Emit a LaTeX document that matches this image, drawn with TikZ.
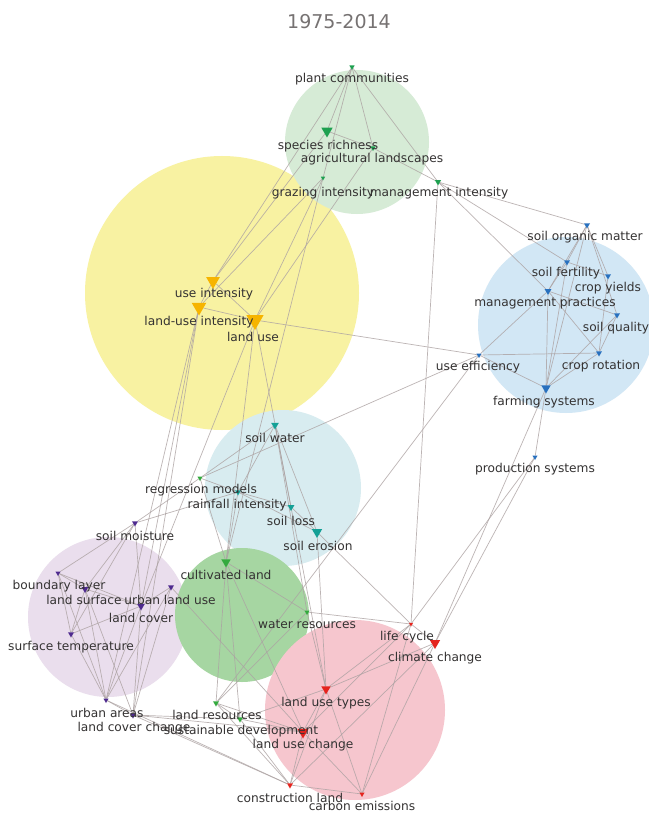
\documentclass[tikz,border=0pt]{standalone}
\usepackage{fontspec}
\setmainfont{DejaVu Sans}
\usetikzlibrary{shapes.geometric}
\pgfdeclarelayer{backdrop}
\pgfdeclarelayer{circles}
\pgfdeclarelayer{edges}
\pgfsetlayers{backdrop,circles,edges,main}
\definecolor{cYellow}{RGB}{248,242,162}
\definecolor{cTopGreen}{RGB}{214,235,214}
\definecolor{cBlue}{RGB}{210,231,245}
\definecolor{cCyan}{RGB}{216,236,240}
\definecolor{cLav}{RGB}{234,222,237}
\definecolor{cGreen}{RGB}{166,214,162}
\definecolor{cPink}{RGB}{246,198,206}
\definecolor{mGreen}{RGB}{30,160,80}
\definecolor{mYellow}{RGB}{246,180,0}
\definecolor{mBlue}{RGB}{40,112,190}
\definecolor{mTeal}{RGB}{20,160,150}
\definecolor{mPurple}{RGB}{78,42,142}
\definecolor{mGreen2}{RGB}{52,170,62}
\definecolor{mRed}{RGB}{228,36,30}
\definecolor{txt}{RGB}{52,50,50}
\definecolor{edgec}{RGB}{172,162,162}
\tikzset{
  mk/.style={regular polygon, regular polygon sides=3, shape border rotate=180,
    draw=none, inner sep=0pt, outer sep=0pt},
  lbl/.style={text=txt, inner sep=0pt, anchor=base, yshift=-4.4pt,
    font=\fontsize{12.2}{14}\selectfont},
  edge/.style={draw=edgec, line width=0.7pt, draw opacity=0.8},
  cluster/.style={draw=none}
}
\newcommand{\mkr}[5]{\node[mk, fill=#4, minimum size=#5pt] (#1) at (#2,#3) {};}
\newcommand{\lbx}[4]{\node[lbl] (#1-l) at (#2,#3) {#4};}
\begin{document}
\begin{tikzpicture}[x=1pt,y=-1pt]
\useasboundingbox (0,0) rectangle (648,813);
\begin{pgfonlayer}{backdrop}
  \fill[white] (0,0) rectangle (648,813);
\end{pgfonlayer}
\node[text={rgb,255:red,118;green,114;blue,114}, font=\fontsize{19}{22}\selectfont] (title) at (339,22) {1975-2014};
\begin{pgfonlayer}{circles}
  \fill[cYellow] (222,293) circle (137);
  \fill[cTopGreen] (357,142) circle (72);
  \fill[cBlue] (566,325) circle (88);
  \fill[cCyan] (283,488) circle (78);
  \fill[cLav] (108,617) circle (80);
  \fill[cGreen] (242,615) circle (67);
  \fill[cPink] (355,710) circle (90);
\end{pgfonlayer}
% markers
\mkr{pc}{352}{67}{mGreen}{6}
\mkr{sr}{327}{131}{mGreen}{13}
\mkr{al}{373}{148}{mGreen}{6}
\mkr{gi}{323}{178}{mGreen}{5}
\mkr{mi}{438}{182}{mGreen}{7}
\mkr{ui}{213}{281}{mYellow}{16}
\mkr{lui}{199}{307}{mYellow}{17}
\mkr{lu}{255}{320}{mYellow}{20}
\mkr{som}{587}{225}{mBlue}{7}
\mkr{sf}{567}{262}{mBlue}{7}
\mkr{cy}{608}{276}{mBlue}{7}
\mkr{mp}{548}{291}{mBlue}{8}
\mkr{sq}{617}{315}{mBlue}{7}
\mkr{ue}{479}{355}{mBlue}{6}
\mkr{cr}{599}{353}{mBlue}{7}
\mkr{fs}{546}{388}{mBlue}{11}
\mkr{ps}{535}{457}{mBlue}{6}
\mkr{sw}{275}{425}{mTeal}{9}
\mkr{rm}{200}{478}{mGreen2}{6}
\mkr{ri}{238}{492}{mTeal}{7}
\mkr{sl}{291}{507}{mTeal}{8}
\mkr{se}{317}{532}{mTeal}{12}
\mkr{sm}{135}{523}{mPurple}{7}
\mkr{bl}{58}{573}{mPurple}{6}
\mkr{ls}{85}{589}{mPurple}{8}
\mkr{ulu}{171}{587}{mPurple}{7}
\mkr{lc}{141}{606}{mPurple}{9}
\mkr{st}{71}{634}{mPurple}{7}
\mkr{ua}{106}{700}{mPurple}{6}
\mkr{lcc}{133}{715}{mPurple}{7}
\mkr{cl}{226}{562}{mGreen2}{11}
\mkr{wr}{307}{612}{mGreen2}{6}
\mkr{lr}{216}{703}{mGreen2}{7}
\mkr{sd}{240}{719}{mGreen2}{7}
\mkr{lcy}{411}{624}{mRed}{5}
\mkr{cc}{435}{643}{mRed}{12}
\mkr{lut}{326}{689}{mRed}{11}
\mkr{luc}{303}{732}{mRed}{13}
\mkr{con}{290}{785}{mRed}{7}
\mkr{ce}{362}{794}{mRed}{6}
% labels
\lbx{pc}{352}{78}{plant communities}
\lbx{sr}{328}{145}{species richness}
\lbx{al}{372}{158}{agricultural landscapes}
\lbx{gi}{323}{192}{grazing intensity}
\lbx{mi}{439}{192}{management intensity}
\lbx{ui}{214}{293}{use intensity}
\lbx{lui}{199}{321}{land-use intensity}
\lbx{lu}{253}{337}{land use}
\lbx{som}{585}{236}{soil organic matter}
\lbx{sf}{566}{272}{soil fertility}
\lbx{cy}{608}{287}{crop yields}
\lbx{mp}{545}{302}{management practices}
\lbx{sq}{616}{327}{soil quality}
\lbx{ue}{478}{366}{use efficiency}
\lbx{cr}{601}{365}{crop rotation}
\lbx{fs}{544}{401}{farming systems}
\lbx{ps}{535}{468}{production systems}
\lbx{sw}{275}{438}{soil water}
\lbx{rm}{201}{489}{regression models}
\lbx{ri}{237}{504}{rainfall intensity}
\lbx{sl}{291}{521}{soil loss}
\lbx{se}{318}{546}{soil erosion}
\lbx{sm}{135}{536}{soil moisture}
\lbx{bl}{59}{585}{boundary layer}
\lbx{ls}{84}{600}{land surface}
\lbx{ulu}{170}{600}{urban land use}
\lbx{lc}{141}{618}{land cover}
\lbx{st}{71}{646}{surface temperature}
\lbx{ua}{107}{713}{urban areas}
\lbx{lcc}{134}{727}{land cover change}
\lbx{cl}{226}{575}{cultivated land}
\lbx{wr}{307}{624}{water resources}
\lbx{lr}{217}{715}{land resources}
\lbx{sd}{241}{730}{sustainable development}
\lbx{lcy}{407}{636}{life cycle}
\lbx{cc}{435}{657}{climate change}
\lbx{lut}{326}{702}{land use types}
\lbx{luc}{303}{744}{land use change}
\lbx{con}{290}{798}{construction land}
\lbx{ce}{362}{806}{carbon emissions}
% edges
\begin{pgfonlayer}{edges}
\foreach \a/\b in {pc/sr, pc/al, pc/mi, pc/ui, pc/gi, sr/al, sr/ui, al/mi, al/lu,
  gi/lui, gi/lu, gi/cl, mi/som, mi/sf, mi/mp, mi/lcy,
  ui/lu, ui/lui, lui/lu, lu/ue, lu/cl, lui/lc, lui/ua, lui/lcc, lu/lut, lu/lc,
  som/sf, som/cy, som/sq, som/fs, som/mp, sf/cy, sf/fs, sf/mp, mp/sq, mp/ue, mp/fs,
  mp/cr, cy/cr, sq/cr, sq/fs, cr/fs, cr/ue, ue/fs, fs/ps, ps/cc, ps/lcy, fs/cc,
  ue/rm, ue/lr,
  sw/sl, sw/se, sw/ri, sw/rm, sw/wr, ri/sl, ri/se, ri/sm, ri/rm, ri/cl, sl/se,
  se/lut, se/lcy, rm/sm, rm/cl,
  sm/bl, sm/ls, sm/st, sm/lc, bl/ls, bl/lc, bl/st, bl/ua, ls/lc, ls/st, ls/ua,
  ls/lcc, st/lc, st/ua, ulu/lc, ulu/ua, ulu/lcc, ulu/luc, lc/ua, lc/lcc, ua/lcc,
  lcc/sd, lcc/con, lcc/luc, ua/con,
  cl/lr, cl/sd, cl/luc, cl/wr, wr/lcy, wr/lr, wr/lut, lr/sd, lr/con, lr/luc,
  sd/luc, sd/con, sd/lut,
  lcy/cc, lcy/lut, lcy/luc, lcy/ce, cc/lut, cc/ce, cc/con, lut/luc, lut/ce,
  lut/con, luc/con, luc/ce, con/ce}
  \draw[edge] (\a) -- (\b);
\end{pgfonlayer}
\end{tikzpicture}
\end{document}
